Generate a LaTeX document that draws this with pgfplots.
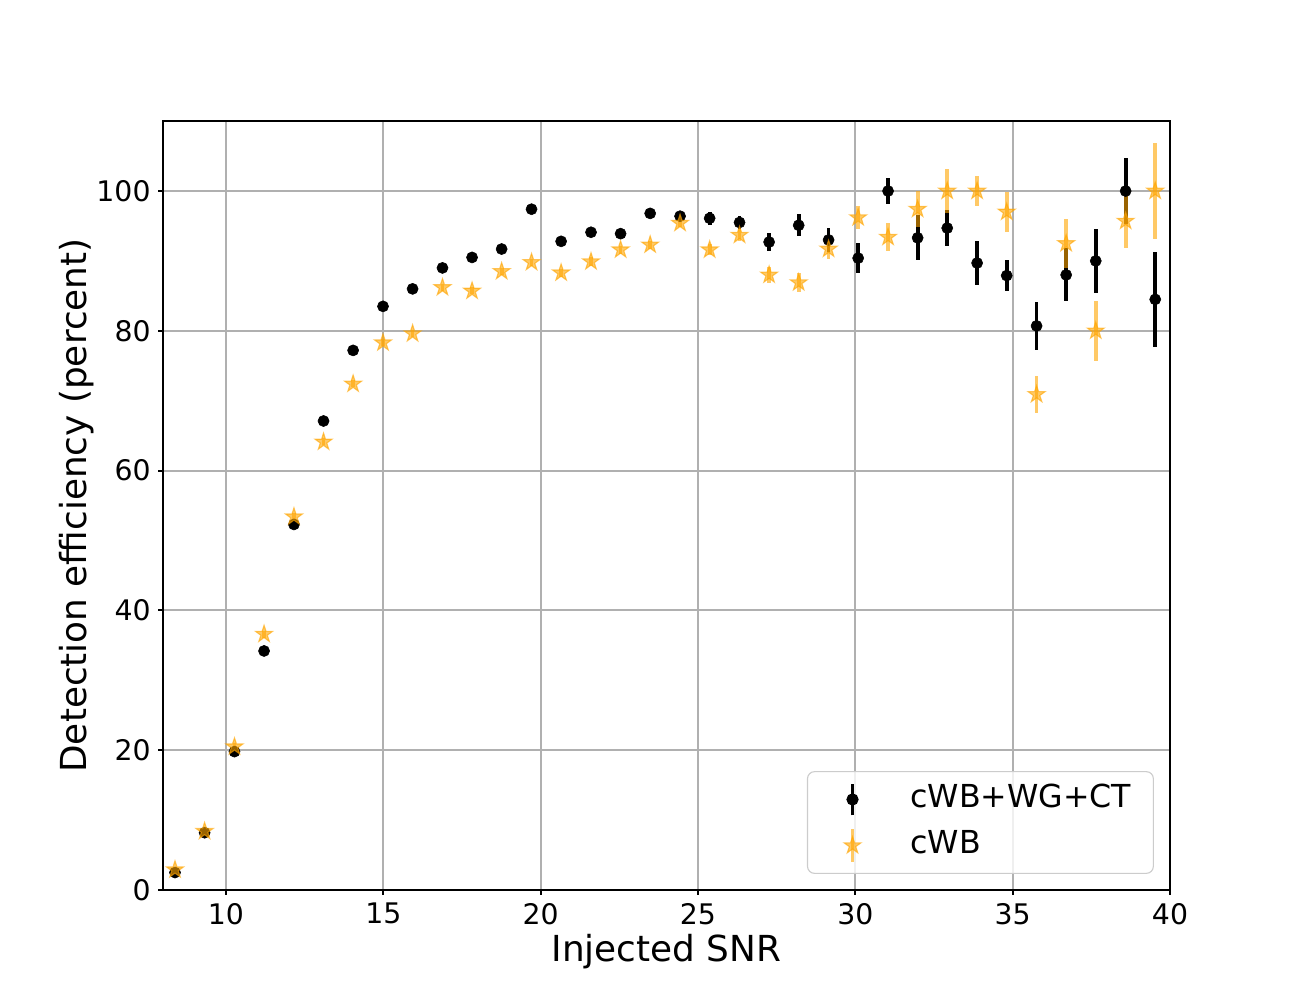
\documentclass[border=0pt]{standalone}
\usepackage{fontspec}
\setmainfont{DejaVu Sans}
\usepackage{pgfplots}
\pgfplotsset{compat=1.18}
\usepackage{pgfplotstable}
\definecolor{mplorange}{HTML}{FFA500}
\definecolor{gridgray}{HTML}{B0B0B0}

\pgfdeclareplotmark{fstar}{%
 \pgfpathmoveto{\pgfpointpolar{90}{\pgfplotmarksize}}%
 \pgfpathlineto{\pgfpointpolar{126}{0.382\pgfplotmarksize}}%
 \pgfpathlineto{\pgfpointpolar{162}{\pgfplotmarksize}}%
 \pgfpathlineto{\pgfpointpolar{198}{0.382\pgfplotmarksize}}%
 \pgfpathlineto{\pgfpointpolar{234}{\pgfplotmarksize}}%
 \pgfpathlineto{\pgfpointpolar{270}{0.382\pgfplotmarksize}}%
 \pgfpathlineto{\pgfpointpolar{306}{\pgfplotmarksize}}%
 \pgfpathlineto{\pgfpointpolar{342}{0.382\pgfplotmarksize}}%
 \pgfpathlineto{\pgfpointpolar{18}{\pgfplotmarksize}}%
 \pgfpathlineto{\pgfpointpolar{54}{0.382\pgfplotmarksize}}%
 \pgfpathclose
 \pgfusepathqfillstroke}

\pgfplotstableread{
x y e
8.38 2.5 0.4
9.32 8.2 0.5
10.27 19.8 0.5
11.21 34.2 0.5
12.16 52.3 0.5
13.10 67.1 0.5
14.04 77.2 0.5
14.99 83.5 0.5
15.93 86.0 0.5
16.88 89.0 0.5
17.82 90.5 0.5
18.76 91.7 0.5
19.71 97.4 0.4
20.65 92.8 0.6
21.60 94.1 0.6
22.54 93.9 0.6
23.48 96.8 0.6
24.43 96.4 0.6
25.37 96.1 0.9
26.32 95.5 0.9
27.26 92.7 1.3
28.20 95.1 1.6
29.15 93.0 1.7
30.09 90.4 2.2
31.04 100 1.9
31.98 93.3 3.2
32.92 94.7 2.6
33.87 89.7 3.2
34.81 87.9 2.2
35.76 80.7 3.4
36.70 88.0 3.8
37.64 90.0 4.6
38.59 100 4.7
39.53 84.5 6.8
}\blackdata

\pgfplotstableread{
x y e
8.38 2.9 0.4
9.32 8.4 0.5
10.27 20.5 0.5
11.21 36.6 0.5
12.16 53.4 0.5
13.10 64.1 0.5
14.04 72.4 0.5
14.99 78.3 0.5
15.93 79.6 0.5
16.88 86.2 0.5
17.82 85.7 0.5
18.76 88.5 0.5
19.71 89.8 0.5
20.65 88.3 0.6
21.60 89.9 0.6
22.54 91.6 0.6
23.48 92.3 0.6
24.43 95.4 0.6
25.37 91.6 0.8
26.32 93.7 0.9
27.26 88.0 1.2
28.20 86.9 1.4
29.15 91.7 1.4
30.09 96.2 1.7
31.04 93.4 2.0
31.98 97.4 2.6
32.92 100 3.2
33.87 100 2.2
34.81 97.0 2.9
35.76 70.9 2.6
36.70 92.5 3.5
37.64 80.0 4.3
38.59 95.7 3.9
39.53 100 6.8
}\orangedata

\begin{document}
\begin{tikzpicture}
\useasboundingbox (-58.7pt,-39.6pt) rectangle (409.3pt,320.4pt);
\begin{axis}[
 scale only axis, width=362.5pt, height=276.8pt,
 xmin=8, xmax=40, ymin=0, ymax=110,
 xtick={10,15,...,40}, ytick={0,20,...,100},
 grid=major, grid style={line width=0.72pt, color=gridgray},
 axis line style={line width=0.75pt},
 tick align=outside, tick pos=left, major tick length=1.7pt,
 tick style={line width=0.75pt, black},
 ticklabel style={font=\fontsize{10.2}{12}\selectfont},
 yticklabel style={inner xsep=2.6pt},
 xticklabel style={inner ysep=2.8pt},
 /pgf/number format/assume math mode=true,
 xlabel={Injected SNR}, ylabel={Detection efficiency (percent)},
 label style={font=\fontsize{12.9}{15}\selectfont},
 xlabel style={at={(axis description cs:0.5,-0.0936)}, anchor=base},
 ylabel style={at={(axis description cs:-0.0764,0.5)}, anchor=base},
 legend style={at={(axis description cs:1,0)}, anchor=south east,
   xshift=-5.8pt, yshift=5.8pt, draw=black!20, rounded corners=2.5pt,
   fill=white, fill opacity=0.8, draw opacity=1, text opacity=1,
   inner xsep=4.2pt, inner ysep=3pt, row sep=2.6pt,
   font=\fontsize{11.4}{13}\selectfont,
   nodes={text height=8.5pt, text depth=2.5pt, inner ysep=1.5pt, inner xsep=3.8pt}},
 legend cell align=left,
]
\addplot[only marks, mark=*, color=black, mark size=2.0pt,
  mark options={fill=black, draw=black, line width=0.2pt},
  legend image code/.code={%
    \draw[black, draw opacity=1, line width=1.35pt] (12pt,-5.7pt) -- (12pt,5.7pt);
    \draw[black, draw opacity=1, fill opacity=1, mark=*, mark size=2.0pt, only marks, mark options={fill=black}] plot coordinates {(12pt,0pt)};
    \path[draw=none, fill=none] (0pt,0pt) (29pt,0pt);},
  error bars/.cd, y dir=both, y explicit,
  error bar style={line width=1.35pt, black}, error mark=none]
  table[x=x, y=y, y error=e] {\blackdata};
\addlegendentry{cWB+WG+CT}
\addplot[only marks, mark=fstar, color=mplorange, opacity=0.6, mark size=3.2pt,
  mark options={fill=mplorange, draw=mplorange, line width=0.4pt, opacity=0.6},
  legend image code/.code={%
    \draw[mplorange, draw opacity=0.6, line width=1.35pt] (12pt,-5.9pt) -- (12pt,5.9pt);
    \draw[mplorange, opacity=0.6, mark=fstar, mark size=3.2pt, only marks, mark options={fill=mplorange, line width=0.4pt}] plot coordinates {(12pt,0pt)};
    \path[draw=none, fill=none] (0pt,0pt) (29pt,0pt);},
  error bars/.cd, y dir=both, y explicit,
  error bar style={line width=1.35pt, mplorange, opacity=0.6}, error mark=none]
  table[x=x, y=y, y error=e] {\orangedata};
\addlegendentry{cWB}
\end{axis}
\end{tikzpicture}
\end{document}
